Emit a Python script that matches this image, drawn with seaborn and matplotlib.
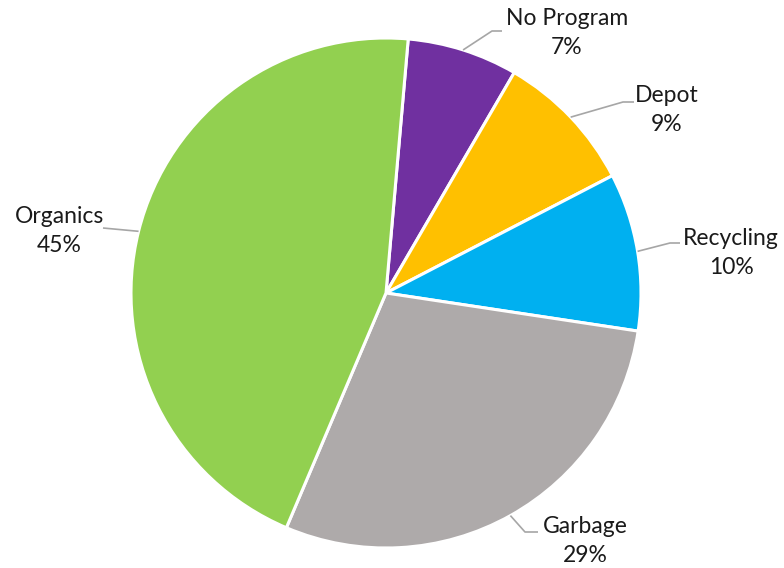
import numpy as np
import matplotlib
matplotlib.use("Agg")
import matplotlib.pyplot as plt
import seaborn as sns

sns.set_theme(style="white")
plt.rcParams["font.family"] = ["Lato", "DejaVu Sans"]

# Share of households by waste program
categories = ["No Program", "Depot", "Recycling", "Garbage", "Organics"]
shares = [7, 9, 10, 29, 45]
colors = ["#7030A0", "#FFC000", "#00B0F0", "#AEAAAA", "#92D050"]

# Label layout (pixel positions on a 784x568 canvas): text centre, leader elbow, leader end
W, H = 784, 568
CX, CY, R = 386, 293, 255
label_layout = {
    "No Program": dict(text=(567, 33), elbow=(492, 31), end=(502, 31)),
    "Depot": dict(text=(667, 110), elbow=(623, 102), end=(634, 102)),
    "Recycling": dict(text=(731, 253), elbow=(670, 243), end=(680, 243)),
    "Garbage": dict(text=(585, 541), elbow=(525, 532), end=(538, 532)),
    "Organics": dict(text=(59, 231), elbow=(103, 228), end=(103, 228)),
}


def to_data(p):
    return ((p[0] - CX) / R, (CY - p[1]) / R)


fig = plt.figure(figsize=(W / 100, H / 100), dpi=100)
ax = fig.add_axes([0, 0, 1, 1])
start = 85.0
wedges, _ = ax.pie(
    shares, colors=colors, startangle=start, counterclock=False, radius=1.0,
    wedgeprops=dict(edgecolor="white", linewidth=2.2),
)
ax.set_xlim(-CX / R, (W - CX) / R)
ax.set_ylim(-(H - CY) / R, CY / R)
ax.set_aspect("equal")
ax.axis("off")

total = sum(shares)
for w, name, val in zip(wedges, categories, shares):
    mid = np.deg2rad((w.theta1 + w.theta2) / 2)
    edge = (np.cos(mid), np.sin(mid))
    lay = label_layout[name]
    elbow = to_data(lay["elbow"])
    end = to_data(lay["end"])
    ax.plot([edge[0], elbow[0], end[0]], [edge[1], elbow[1], end[1]],
            color="#A6A6A6", lw=1.2, solid_capstyle="butt", zorder=1)
    tx, ty = to_data(lay["text"])
    ax.text(tx, ty, f"{name}\n{val / total * 100:.0f}%", ha="center", va="center",
            fontsize=16.5, color="#1a1a1a", linespacing=1.5)

fig.savefig("out.png", dpi=100, facecolor="white")
